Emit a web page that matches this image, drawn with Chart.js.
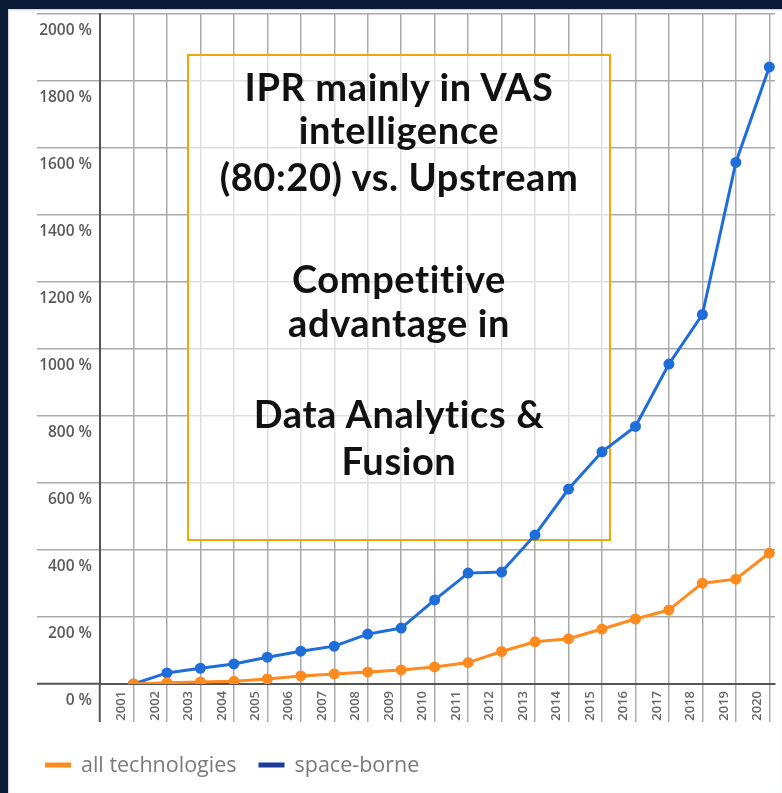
<!DOCTYPE html>
<html>
<head>
<meta charset="utf-8">
<script src="https://cdn.jsdelivr.net/npm/chart.js@4/dist/chart.umd.min.js"></script>
<style>
  html, body { margin: 0; padding: 0; }
  body { width: 782px; height: 793px; background: #0b1a35; position: relative; overflow: hidden; }
  #panel { position: absolute; left: 8px; top: 9px; width: 774px; height: 784px; background: #ffffff; box-shadow: inset 1px 1px 2px #c9ccd2; }
  #wrap { position: absolute; left: 0; top: 0; width: 782px; height: 793px; }
  #note { position: absolute; left: 187px; top: 54px; width: 420px; height: 483px; border: 2px solid transparent; font-family: "Lato", "Open Sans", sans-serif; font-weight: 700; font-size: 38px; letter-spacing: 0.6px; color: #111; pointer-events: none; }
  #note div { position: absolute; left: 0; width: 100%; text-align: center; line-height: 40px; white-space: nowrap; }
</style>
</head>
<body>
<div id="panel"></div>
<div id="wrap"><canvas id="c" width="782" height="793"></canvas></div>
<div id="note">
  <div style="top:10px">IPR mainly in VAS</div>
  <div style="top:53px">intelligence</div>
  <div style="top:100px">(80:20) vs. Upstream</div>
  <div style="top:202px">Competitive</div>
  <div style="top:246px">advantage in</div>
  <div style="top:337px">Data Analytics &amp;</div>
  <div style="top:384px">Fusion</div>
</div>
<script>
const years = [2001, 2002, 2003, 2004, 2005, 2006, 2007, 2008, 2009, 2010, 2011, 2012, 2013, 2014, 2015, 2016, 2017, 2018, 2019, 2020];
const allTechnologies = [0, 4, 6, 8, 15, 24, 30, 36, 42, 51, 64, 97, 126, 135, 164, 194, 221, 301, 313, 391];
const spaceBorne = [0, 33, 47, 60, 80, 98, 113, 149, 167, 251, 331, 334, 445, 582, 693, 769, 955, 1103, 1557, 1842];
const yTicks = [0, 200, 400, 600, 800, 1000, 1200, 1400, 1600, 1800, 2000];
const xTicks = [2000].concat(years);
const seriesNames = ['all technologies', 'space-borne'];
const lineColors = ['#ff8a1e', '#1f6dd9'];
const legendColors = ['#ff8a1e', '#1d3c98'];

const toPoints = (vals) => years.map((yr, i) => ({ x: yr, y: vals[i] }));

const noteBox = {
  id: 'noteBox',
  beforeDatasetsDraw(chart) {
    const ctx = chart.ctx;
    ctx.save();
    ctx.fillStyle = 'rgba(255,255,255,0.62)';
    ctx.fillRect(187, 54, 424, 487);
    ctx.strokeStyle = '#f2a60a';
    ctx.lineWidth = 2;
    ctx.strokeRect(188, 55, 422, 485);
    ctx.restore();
  }
};

const customLegend = {
  id: 'customLegend',
  afterDraw(chart) {
    const ctx = chart.ctx;
    ctx.save();
    ctx.font = '400 21.5px "Open Sans", sans-serif';
    ctx.textBaseline = 'middle';
    let x = 45;
    const y = 766;
    chart.data.datasets.forEach((ds, i) => {
      ctx.strokeStyle = legendColors[i];
      ctx.lineWidth = 5;
      ctx.beginPath();
      ctx.moveTo(x, y - 1);
      ctx.lineTo(x + 26, y - 1);
      ctx.stroke();
      ctx.fillStyle = '#7a7a7a';
      ctx.fillText(ds.label, x + 36, y);
      x += 36 + ctx.measureText(ds.label).width + 22;
    });
    ctx.restore();
  }
};

new Chart(document.getElementById('c'), {
  type: 'line',
  data: {
    datasets: [
      { label: seriesNames[0], data: toPoints(allTechnologies), borderColor: lineColors[0], backgroundColor: lineColors[0], borderWidth: 3, pointRadius: 4, pointHoverRadius: 4, tension: 0 },
      { label: seriesNames[1], data: toPoints(spaceBorne), borderColor: lineColors[1], backgroundColor: lineColors[1], borderWidth: 3, pointRadius: 4, pointHoverRadius: 4, tension: 0 }
    ]
  },
  options: {
    responsive: false,
    animation: false,
    layout: { padding: { left: 0, top: 14, right: 4, bottom: 71 } },
    plugins: { legend: { display: false }, tooltip: { enabled: false } },
    scales: {
      x: {
        type: 'linear',
        min: 2000,
        max: 2020.17,
        afterBuildTicks: (s) => { s.ticks = xTicks.map(v => ({ value: v })); },
        afterFit: (s) => { s.height = 38; },
        grid: {
          color: '#ababab',
          lineWidth: 1.5,
          tickLength: 38,
          tickColor: (c) => c.tick && c.tick.value === 2000 ? '#555' : '#ababab',
          tickWidth: (c) => c.tick && c.tick.value === 2000 ? 2 : 1.5
        },
        border: { color: '#555', width: 2 },
        ticks: {
          autoSkip: false,
          minRotation: 90,
          maxRotation: 90,
          padding: -31,
          labelOffset: -12,
          color: '#666',
          font: { family: '"Open Sans", sans-serif', size: 13, weight: '600' },
          callback: (v) => v === 2000 ? '' : String(v)
        }
      },
      y: {
        min: 0,
        max: 2000,
        afterBuildTicks: (s) => { s.ticks = yTicks.map(v => ({ value: v })); },
        afterFit: (s) => { s.width = 100; },
        grid: {
          color: '#ababab',
          lineWidth: 1.5,
          tickLength: 63,
          tickColor: (c) => c.tick && c.tick.value === 0 ? '#555' : '#ababab',
          tickWidth: (c) => c.tick && c.tick.value === 0 ? 2 : 1.5
        },
        border: { color: '#555', width: 2 },
        ticks: {
          padding: -55,
          labelOffset: 17,
          color: '#5a5a5a',
          font: { family: '"Open Sans", sans-serif', size: 15.5, weight: '600' },
          callback: (v) => v + ' %'
        }
      }
    }
  },
  plugins: [noteBox, customLegend]
});
</script>
</body>
</html>
